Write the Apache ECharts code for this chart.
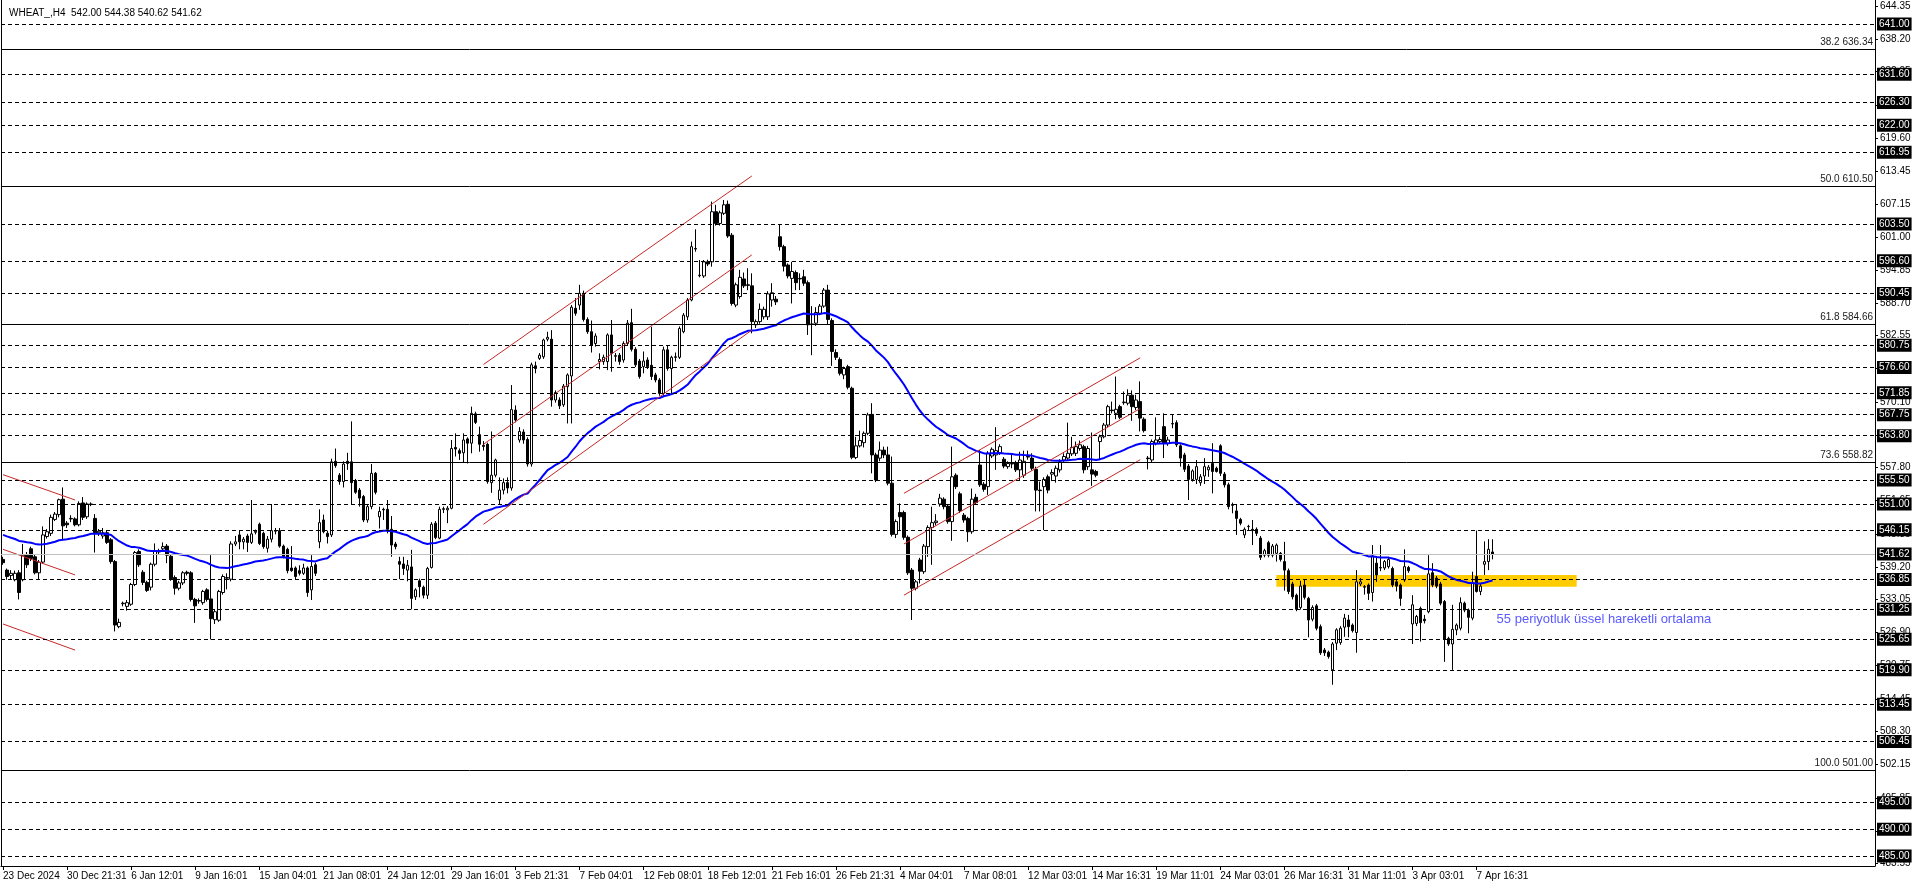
<!DOCTYPE html>
<html><head><meta charset="utf-8">
<script src="https://cdn.jsdelivr.net/npm/echarts@6/dist/echarts.min.js"></script>
<style>html,body{margin:0;padding:0;background:#fff}#c{width:1916px;height:888px}</style>
</head><body><div id="c"></div>
<script>
const chartTitle = 'WHEAT_,H4  542.00 544.38 540.62 541.62';
const tickLabels = ['23 Dec 2024','30 Dec 21:31','6 Jan 12:01','9 Jan 16:01','15 Jan 04:01','21 Jan 08:01','24 Jan 12:01','29 Jan 16:01','3 Feb 21:31','7 Feb 04:01','12 Feb 08:01','18 Feb 12:01','21 Feb 16:01','26 Feb 21:31','4 Mar 04:01','7 Mar 08:01','12 Mar 03:01','14 Mar 16:31','19 Mar 11:01','24 Mar 03:01','26 Mar 16:31','31 Mar 11:01','3 Apr 03:01','7 Apr 16:31'];
const barsPerLabel = 16;
const slotCount = 468;
// [open, close, low, high]
const ohlc = [
[540.6,540.0,539.6,541.1],[538.6,537.4,536.8,538.9],[537.6,538.0,536.8,538.6],[536.8,538.0,536.5,538.5],[538.1,534.4,533.1,538.6],
[536.8,541.4,536.5,543.5],[541.4,539.6,539.0,542.0],[542.6,540.8,540.3,543.0],[541.1,538.1,537.8,541.5],[538.1,540.1,536.8,540.5],
[540.1,545.2,539.8,546.8],[544.9,545.8,544.5,546.3],[545.5,548.5,545.0,549.0],[548.1,549.1,547.8,549.5],[549.0,551.8,548.5,552.0],
[551.9,546.9,544.3,554.1],[547.4,547.1,546.5,547.8],[548.2,548.3,547.6,548.9],[548.2,547.1,546.8,548.5],[547.1,551.1,546.8,551.5],
[551.2,548.5,548.0,552.3],[548.6,551.0,548.2,551.3],[551.0,550.9,550.6,551.3],[548.3,545.6,541.9,549.1],[545.6,545.9,545.0,546.3],
[545.0,545.6,544.5,546.5],[545.6,543.8,543.5,546.0],[544.3,540.2,539.8,544.6],[540.2,528.3,527.1,540.5],[528.0,528.8,527.7,529.5],
[532.3,532.4,531.8,532.7],[531.8,532.5,531.0,533.0],[532.2,535.9,531.9,536.2],[535.9,541.9,535.6,542.2],[542.1,539.6,539.2,542.5],
[538.2,536.3,535.8,538.6],[536.3,534.8,534.5,536.6],[535.4,539.7,534.8,540.0],[539.7,542.1,539.3,543.6],[542.0,542.2,541.6,542.6],
[542.6,543.0,542.2,543.8],[543.1,541.4,539.9,543.5],[541.2,537.0,536.6,541.5],[537.2,535.2,534.0,537.6],[535.2,536.2,534.8,536.6],
[536.2,538.1,535.8,538.4],[538.2,538.0,537.6,538.5],[538.1,533.1,532.7,538.4],[533.1,531.9,528.7,533.4],[532.8,532.9,532.3,533.3],
[532.5,534.6,532.1,534.9],[534.9,533.1,532.7,535.2],[533.2,529.5,525.6,541.4],[529.3,530.8,528.5,531.2],[529.2,534.6,528.9,534.9],
[534.4,537.4,534.0,537.8],[537.1,537.2,535.0,538.0],[536.9,543.5,536.5,544.0],[543.5,543.9,543.1,545.0],[545.2,543.9,542.5,546.1],
[543.9,544.4,542.5,544.8],[545.0,543.8,542.0,545.4],[543.8,545.4,543.5,551.75],[545.7,545.9,545.3,546.2],[547.2,543.6,543.3,547.5],
[545.5,543.0,542.6,545.8],[542.7,544.4,541.9,545.0],[544.4,546.0,543.8,551.0],[545.9,546.0,545.3,546.5],[546.0,543.1,542.8,546.5],
[543.1,541.1,540.8,543.4],[542.5,538.5,538.0,542.8],[539.0,538.5,538.3,543.1],[539.0,537.4,536.8,539.3],[538.5,538.0,537.6,539.5],
[538.0,539.0,537.7,539.8],[539.0,534.4,533.6,539.3],[534.9,539.3,533.0,541.4],[539.6,538.0,537.5,540.0],[543.9,547.5,542.7,550.0],
[548.0,545.8,545.5,549.0],[545.5,544.9,543.6,546.0],[545.2,558.9,544.8,559.5],[559.0,558.2,557.8,561.4],[556.4,555.2,554.6,556.8],
[555.2,558.5,554.1,559.0],[559.0,558.6,557.4,560.6],[558.9,555.0,551.0,566.5],[555.4,553.2,552.9,555.7],[553.6,552.1,550.5,554.0],
[552.4,548.0,547.6,552.7],[548.0,550.5,547.5,551.0],[550.5,556.75,550.0,558.5],[556.75,553.2,552.8,557.0],[548.6,549.6,546.4,550.5],
[550.0,549.9,548.0,550.3],[550.0,546.25,545.5,551.75],[546.25,543.3,541.1,548.75],[543.5,543.0,542.5,543.9],[540.2,539.7,536.9,541.1],
[539.75,538.9,537.7,541.1],[538.6,539.5,536.5,540.5],[539.2,533.3,531.25,542.4],[533.6,534.9,533.0,535.2],[536.6,535.5,533.5,537.0],
[535.4,533.9,533.3,535.7],[533.9,538.9,533.2,539.2],[539.1,547.2,538.9,547.6],[547.4,544.7,544.4,547.8],[544.6,550.0,544.4,550.5],
[550.1,550.0,549.3,550.5],[549.9,550.2,547.4,550.6],[550.2,561.4,550.0,563.0],[561.6,561.3,559.9,564.25],[561.0,560.5,559.25,561.4],
[560.6,563.0,558.75,564.25],[563.2,562.4,558.6,563.5],[562.4,568.0,560.5,569.25],[567.9,566.3,566.0,568.3],[564.0,562.2,560.8,565.5],
[562.0,561.8,561.0,562.8],[562.2,555.2,554.8,562.5],[555.0,556.4,553.1,564.6],[556.4,559.25,556.0,559.5],[551.8,553.6,551.0,556.0],
[553.6,555.0,552.8,555.8],[555.0,554.0,553.0,556.0],[554.0,568.7,553.5,573.3],[568.6,566.75,566.3,569.5],[563.0,564.6,562.5,565.4],
[564.5,563.0,562.3,565.0],[563.1,558.5,558.0,563.5],[558.5,577.1,558.0,577.5],[576.9,576.4,575.5,577.7],[578.3,578.9,578.0,579.3],
[578.6,581.75,578.2,582.0],[581.9,582.25,581.5,583.3],[581.9,570.5,569.25,583.6],[570.5,571.9,570.0,572.3],[570.5,569.4,568.8,571.0],
[569.6,573.1,569.2,573.5],[573.0,575.2,566.1,575.5],[575.0,587.9,566.1,588.3],[587.7,586.75,586.3,589.6],[588.3,590.5,587.4,592.1],
[590.5,585.6,585.2,591.0],[585.6,583.3,582.9,586.0],[583.3,580.8,579.4,585.4],[581.1,582.5,580.5,583.0],[577.7,578.1,576.25,579.25],
[577.7,578.5,577.1,579.0],[577.7,582.7,576.1,583.0],[582.7,579.25,575.8,585.5],[578.8,578.7,577.7,579.3],[578.9,577.7,577.1,579.3],
[578.0,581.1,577.5,581.5],[581.1,584.9,580.8,585.5],[585.0,580.0,579.6,587.6],[580.0,577.1,576.7,580.4],[577.8,574.9,574.5,578.2],
[576.75,577.8,575.5,579.6],[578.0,576.75,576.3,578.5],[577.0,574.9,574.25,584.25],[575.2,574.25,573.8,575.6],[574.25,571.75,571.3,574.6],
[571.75,579.9,571.3,580.5],[579.9,576.4,576.0,580.7],[576.4,578.5,571.75,578.8],[578.6,578.5,577.7,579.4],[578.5,583.9,578.2,584.3],
[583.3,586.4,583.0,586.8],[586.1,589.25,585.5,589.6],[589.25,599.25,589.0,600.2],[598.9,598.8,598.3,602.5],[593.8,593.9,593.5,596.75],
[593.75,596.4,593.4,596.75],[596.4,596.0,595.6,596.8],[596.4,605.8,595.5,607.7],[605.8,603.6,603.2,607.1],[603.6,605.6,603.2,606.0],
[605.5,607.1,605.2,608.0],[607.2,601.25,600.9,607.9],[601.4,588.6,588.2,601.8],[588.3,592.1,587.9,592.5],[589.9,593.5,589.5,594.9],
[593.2,591.9,591.5,594.4],[592.1,592.0,591.1,595.2],[591.9,585.2,583.0,594.25],[584.6,585.2,584.0,585.6],[585.2,587.5,584.8,588.6],
[586.1,587.5,585.6,588.0],[586.1,590.4,585.5,590.9],[589.25,590.6,588.0,592.4],[589.4,588.9,588.3,590.0],[601.1,599.25,598.5,603.5],
[599.25,595.6,594.6,599.6],[595.8,593.75,593.3,596.1],[593.3,594.6,588.6,596.4],[594.4,592.5,591.1,594.8],[593.3,593.2,591.1,594.25],
[593.6,592.4,591.9,594.9],[592.5,584.6,582.7,592.9],[584.75,584.7,578.9,588.1],[584.9,586.9,584.4,587.9],[586.75,588.1,586.4,588.5],
[588.1,591.1,587.8,591.5],[591.1,585.6,584.6,592.1],[585.4,579.6,576.9,585.8],[579.4,578.5,578.0,580.0],[578.1,575.5,575.1,578.5],
[575.2,576.4,574.4,576.75],[576.75,572.9,572.5,577.1],[572.7,559.75,559.4,573.0],[559.7,561.9,559.4,563.6],[561.9,562.9,561.6,564.75],
[562.5,564.25,561.6,564.6],[564.25,567.7,563.9,568.1],[567.8,560.2,556.75,569.9],[560.2,555.5,555.1,560.6],[559.6,561.1,559.0,562.7],
[561.1,560.2,559.6,561.75],[560.2,554.9,554.5,561.75],[554.9,545.3,544.9,559.9],[545.3,547.7,544.6,548.1],[549.4,548.6,546.1,551.1],
[549.4,544.75,544.3,549.75],[544.75,538.1,537.7,545.1],[538.6,535.2,529.25,539.0],[535.2,536.4,534.8,536.75],[540.5,538.4,536.1,540.9],
[538.3,543.1,537.9,543.5],[543.0,546.6,541.1,547.0],[546.6,547.5,539.6,550.5],[547.5,547.8,547.0,549.1],[551.0,552.1,550.5,552.9],
[551.9,550.5,550.0,552.25],[550.6,547.7,547.3,551.0],[547.7,556.1,544.1,561.75],[556.4,554.25,553.8,556.75],[552.9,549.75,549.3,553.3],
[548.9,548.0,547.5,549.3],[548.3,545.8,543.9,548.6],[545.8,551.9,545.4,553.9],[552.25,551.25,550.9,552.9],[558.3,554.6,554.2,561.1],
[554.7,553.75,553.3,555.1],[554.25,560.5,552.7,560.9],[560.0,561.25,559.6,561.6],[560.2,561.0,557.4,565.4],[560.5,561.75,560.2,562.2],
[559.4,558.1,557.7,559.8],[558.0,558.6,557.6,559.0],[558.6,558.5,557.7,560.5],[558.75,557.4,557.0,559.1],[557.4,559.25,555.5,560.8],
[556.4,559.0,555.9,561.0],[559.9,559.8,559.3,561.0],[559.6,557.7,557.3,560.5],[557.5,553.6,549.6,558.0],[553.6,553.5,549.6,555.2],
[554.25,555.6,546.1,556.0],[556.1,553.6,553.0,556.5],[556.6,556.9,555.5,557.5],[556.25,557.7,555.0,558.2],[557.4,558.9,556.9,559.4],
[559.25,559.9,558.9,560.5],[559.6,560.5,559.1,566.25],[560.4,561.6,560.0,563.6],[560.5,561.75,560.0,562.7],[561.4,562.1,561.0,562.9],
[561.75,557.4,556.75,562.1],[558.0,561.4,557.4,561.9],[557.4,556.6,554.4,564.4],[557.1,556.4,556.0,557.4],[562.7,563.6,559.25,564.0],
[563.6,565.8,563.3,566.2],[565.8,569.25,565.4,569.6],[568.6,568.5,568.0,570.2],[568.0,568.75,566.9,574.9],[569.25,567.25,566.9,569.6],
[570.0,570.1,569.6,572.1],[569.9,571.4,569.5,572.5],[571.4,569.25,566.6,572.3],[569.1,570.5,568.6,571.5],[570.2,567.1,564.6,574.0],
[566.9,564.75,564.4,567.25],[559.6,559.5,557.5,560.0],[559.25,562.7,558.8,563.1],[562.4,563.0,562.0,567.25],[562.7,563.1,562.4,563.6],
[565.5,562.4,559.6,568.0],[562.4,563.0,561.9,563.6],[566.0,566.1,565.2,567.7],[566.25,562.1,561.7,566.7],[561.9,559.6,558.0,562.2],
[560.2,557.5,557.0,560.6],[558.1,555.6,551.75,558.5],[555.6,557.2,555.2,557.5],[555.6,558.0,554.75,559.25],[555.0,556.1,554.4,556.6],
[556.25,558.0,554.75,559.6],[557.4,557.9,556.1,558.3],[558.6,557.1,553.0,562.4],[557.7,557.1,556.9,558.0],[561.9,556.75,556.25,562.2],
[556.6,554.6,554.1,557.0],[554.6,550.5,550.0,555.0],[550.9,550.75,549.25,551.25],[549.7,548.3,545.2,551.0],[548.1,547.4,547.0,548.4],
[545.2,546.25,544.6,546.6],[546.75,546.8,546.1,547.1],
[546.25,546.0,543.3,548.0],[546.25,545.5,545.0,546.6],[544.6,541.0,540.5,545.0],[541.4,542.25,541.0,542.6],[543.75,541.4,541.0,544.1],
[541.4,543.1,541.0,543.5],[541.75,543.3,540.2,543.6],[541.75,540.6,540.2,542.0],[540.2,538.6,534.75,543.9],[538.5,534.6,534.1,538.9],
[536.0,533.6,533.1,536.4],[533.9,531.25,530.9,534.2],[531.6,535.6,531.2,536.6],[535.8,533.5,533.1,536.75],[533.3,529.25,526.0,533.6],
[529.4,531.6,529.0,532.0],[531.9,527.7,527.3,532.25],[528.0,523.1,522.7,528.4],[523.6,523.1,522.5,524.0],[523.2,522.4,522.0,523.5],
[519.9,524.75,517.1,525.1],[524.9,527.4,523.6,527.7],[525.0,527.7,524.6,528.1],[527.9,529.6,526.1,530.4],[529.25,528.0,526.0,530.2],
[528.3,527.25,526.9,528.6],[526.9,536.4,523.1,538.6],[536.0,536.4,535.6,537.1],[535.5,535.4,534.0,535.8],[535.8,534.25,533.0,536.1],
[534.4,541.25,532.7,543.3],[539.9,537.7,536.4,541.25],[539.0,539.1,538.4,543.3],[539.0,540.2,538.6,540.5],[539.25,540.6,538.9,541.1],
[538.9,535.8,535.4,539.25],[536.4,535.6,534.6,536.75],[535.8,533.3,531.9,536.1],[536.75,539.25,536.4,542.5],[539.1,538.5,538.1,539.4],
[528.5,532.1,524.75,533.9],[528.6,529.9,528.1,530.2],[531.4,528.75,525.2,531.75],[529.4,529.1,528.6,530.2],[530.8,537.9,530.5,541.4],
[538.1,535.8,535.4,539.9],[537.1,535.6,535.2,537.5],[536.0,532.4,532.0,536.4],[532.7,525.6,521.4,533.0],[525.8,524.75,524.4,526.1],
[524.75,527.5,519.9,532.1],[527.4,528.3,526.4,528.6],[527.7,532.5,527.3,533.5],[532.4,531.1,530.7,532.7],[531.1,529.75,526.75,531.4],
[529.6,536.1,529.2,538.3],[537.4,534.6,534.4,546.0],[534.6,535.6,533.9,536.0],[539.7,540.2,537.7,544.0],[540.2,542.5,538.6,544.4],
[542.0,541.62,540.62,544.38]
];
const levelValues = [641.00,631.60,626.30,622.00,616.95,603.50,596.60,590.45,580.75,576.60,571.85,567.75,563.80,555.50,551.00,546.15,536.85,531.25,525.65,519.90,513.45,506.45,495.00,490.00,485.00];
const fibValues = [636.34,610.50,584.66,558.82,501.00];
const fibRatios = ['38.2','50.0','61.8','73.6','100.0'];
const currentPrice = 541.62;
const priceTicks = [644.35,638.20,632.05,625.75,619.60,613.45,607.15,601.00,594.85,588.70,582.55,576.40,570.10,563.95,557.80,551.65,545.35,539.20,533.05,526.90,520.75,514.45,508.30,502.15,495.85,489.70,483.55];
const priceMax = 645.5, priceMin = 483.12;
// trend channel lines: [[barIndex, price], [barIndex, price]]
const channelLines = [
  [[0,556.5],[18,551.75]],[[0,542.5],[18,537.7]],[[0,528.5],[18,523.6]],
  [[120,577.16],[187,612.5]],[[120,562.2],[187,597.7]],[[120,547.2],[187,583.6]],
  [[225,553.0],[284,578.4]],[[225,543.5],[284,568.9]],[[225,533.9],[284,559.3]]
];
const zoneBars = [318,393];
const zonePrices = [537.7,535.5];
const emaPeriod = 55, emaSeed = 545.2;
const noteText = '55 periyotluk üssel hareketli ortalama';
const notePoint = [373, 529.4];

const FONT = 'Liberation Sans, Arial, sans-serif';
const cats = Array.from({length: slotCount}, (_, i) => String(i));
const closes = ohlc.map(d => d[1]);
const ema = [];
const k = 2 / (emaPeriod + 1);
closes.forEach((c, i) => { ema.push(i === 0 ? emaSeed : +(ema[i-1] + k * (c - ema[i-1])).toFixed(3)); });
const tickFn = (idx) => idx % barsPerLabel === 0 && idx / barsPerLabel < tickLabels.length;

const boxLabel = (v) => ({show: true, position: 'end', distance: 2, formatter: () => v.toFixed(2),
  backgroundColor: '#000', color: '#fff', opacity: 1, padding: [2,2,1,2], fontSize: 10, fontFamily: FONT});

const lineData = [];
const labelData = [];
levelValues.forEach(v => {
  lineData.push({yAxis: v, lineStyle: {type: [4,3], color: '#000', width: 1}, label: {show: false}});
  labelData.push({yAxis: v, label: boxLabel(v)});
});
fibValues.forEach((v, i) => lineData.push({
  yAxis: v,
  lineStyle: {type: 'solid', color: '#000', width: 1},
  label: {show: true, position: 'insideEndTop', distance: 2, formatter: () => fibRatios[i] + ' ' + v.toFixed(2), color: '#1a1a1a', fontSize: 10, fontFamily: FONT}
}));
lineData.push({yAxis: currentPrice, lineStyle: {type: 'solid', color: '#c0c0c0', width: 1}, label: {show: false}});
labelData.push({yAxis: currentPrice, label: boxLabel(currentPrice)});

const series = [
  {type: 'line', data: [], z: 1, clip: false, silent: true,
   markLine: {silent: true, symbol: ['none','none'], animation: false, data: lineData},
   markArea: {silent: true, itemStyle: {color: '#FFCC00'}, data: [[{xAxis: zoneBars[0], yAxis: zonePrices[0]}, {xAxis: zoneBars[1], yAxis: zonePrices[1]}]]}
  },
  {type: 'candlestick', data: ohlc, z: 3, barWidth: 3,
   itemStyle: {color: '#fff', color0: '#000', borderColor: '#000', borderColor0: '#000', borderWidth: 1}},
  {type: 'line', data: ema, z: 4, symbol: 'none', smooth: false, lineStyle: {color: '#0000ff', width: 2}},
  ...channelLines.map(l => ({type: 'line', data: l, z: 4, symbol: 'none', lineStyle: {color: '#c62828', width: 1}})),
  {type: 'scatter', data: [notePoint], symbolSize: 0, z: 5,
   label: {show: true, position: 'right', distance: 0, formatter: () => noteText, color: '#3030ff', fontSize: 13, fontFamily: FONT}},
  {type: 'line', data: [], z: 20, clip: false, silent: true,
   markLine: {silent: true, symbol: ['none','none'], animation: false, lineStyle: {color: 'rgba(0,0,0,0)', width: 1, type: 'solid'}, data: labelData}}
];

const chart = echarts.init(document.getElementById('c'), null, {renderer: 'canvas'});
chart.setOption({
  animation: false,
  backgroundColor: '#fff',
  title: {text: chartTitle, left: 4, top: 3, textStyle: {fontSize: 10, fontWeight: 'normal', color: '#000', fontFamily: FONT}},
  grid: {left: 1, right: 41, top: 0, bottom: 22, containLabel: false},
  xAxis: {type: 'category', data: cats, boundaryGap: true,
    axisLine: {show: true, lineStyle: {color: '#000', width: 1}},
    axisTick: {show: true, alignWithLabel: true, interval: tickFn, length: 4, lineStyle: {color: '#000'}},
    axisLabel: {show: true, interval: tickFn, align: 'left', margin: 5, color: '#000', fontSize: 10, fontFamily: FONT,
      formatter: (v, idx) => tickLabels[idx / barsPerLabel] || ''},
    splitLine: {show: false}},
  yAxis: [
    {type: 'value', position: 'right', min: priceMin, max: priceMax, scale: true, z: 0,
     axisLine: {show: true, lineStyle: {color: '#000', width: 1}},
     axisTick: {show: true, length: 3, customValues: priceTicks, lineStyle: {color: '#000'}},
     axisLabel: {show: true, customValues: priceTicks, margin: 5, color: '#000', fontSize: 10, fontFamily: FONT, formatter: v => v.toFixed(2)},
     splitLine: {show: false}},
    {type: 'value', position: 'left', min: priceMin, max: priceMax, scale: true, z: 0,
     axisLine: {show: true, lineStyle: {color: '#000', width: 1}},
     axisTick: {show: false}, axisLabel: {show: false}, splitLine: {show: false}}
  ],
  series: series
});
</script>
</body></html>
